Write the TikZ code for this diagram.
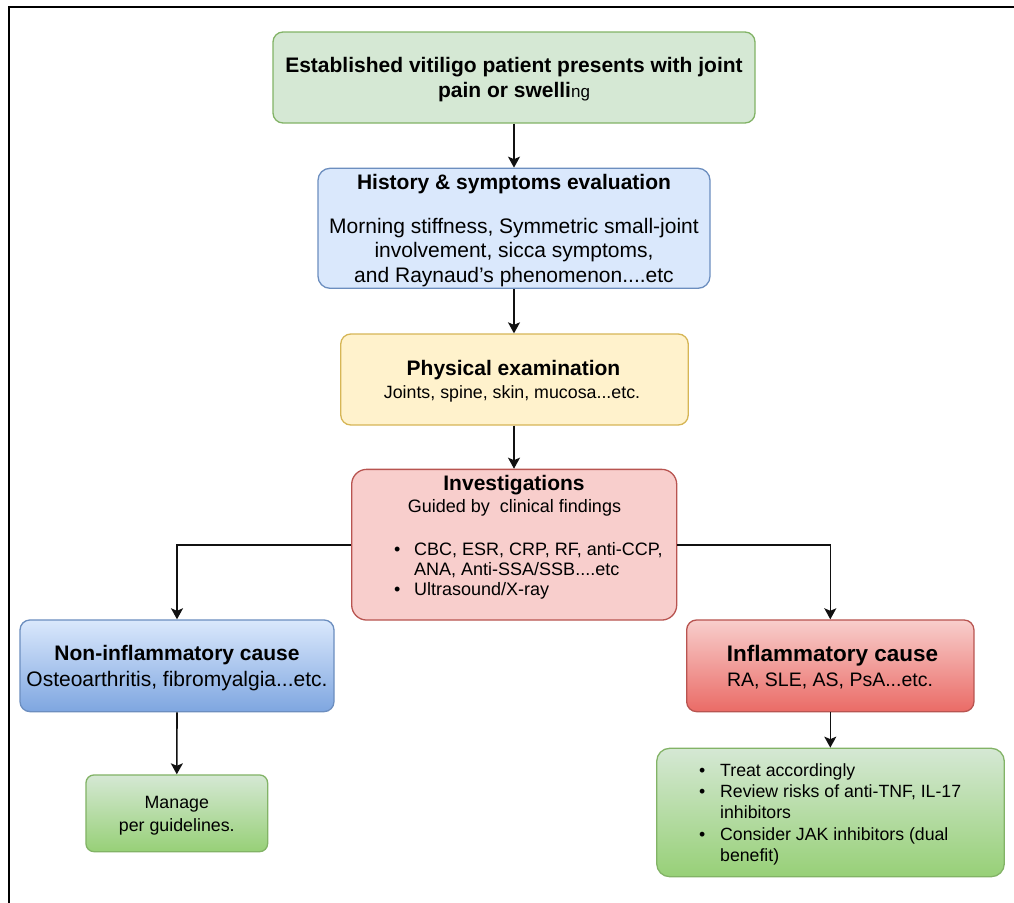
\documentclass[tikz,border=0pt]{standalone}
\usepackage{fontspec}
\setmainfont{Liberation Sans}
\usetikzlibrary{arrows.meta,shadings}
\newcommand{\fsz}[2]{\fontsize{#1}{#2}\selectfont}
\definecolor{gfill}{HTML}{D5E8D4}\definecolor{gline}{HTML}{82B366}\definecolor{gdark}{HTML}{97D077}
\definecolor{bfill}{HTML}{DAE8FC}\definecolor{bline}{HTML}{6C8EBF}\definecolor{bdark}{HTML}{7EA6E0}
\definecolor{yfill}{HTML}{FFF2CC}\definecolor{yline}{HTML}{D6B656}
\definecolor{rfill}{HTML}{F8CECC}\definecolor{rline}{HTML}{B85450}\definecolor{rdark}{HTML}{EA6B66}
\definecolor{arrowc}{HTML}{111111}
\begin{document}
\begin{tikzpicture}[x=1pt,y=-1pt,
  box/.style={draw, rounded corners=#1, inner sep=0pt, line width=1.3pt},
  box/.default=10pt,
  txt/.style={inner sep=0pt, anchor=base},
  ltxt/.style={inner sep=0pt, anchor=base west},
  conn/.style={draw=arrowc, line width=1.6pt, -{Stealth[length=11pt,width=12pt,inset=2.5pt]}}
]
\useasboundingbox (0,0) rectangle (1014,902);
\draw[line width=2.6pt] (9,905) -- (9,7) -- (1016,7);

% boxes
\node[box=10pt, fill=gfill, draw=gline, minimum width=482pt, minimum height=91pt] (top) at (514,77.5) {};
\node[box=12pt, fill=bfill, draw=bline, minimum width=392pt, minimum height=120pt] (hist) at (514,228.3) {};
\node[box=10pt, fill=yfill, draw=yline, minimum width=347.5pt, minimum height=91pt] (phys) at (514.5,379.5) {};
\node[box=15pt, fill=rfill, draw=rline, minimum width=325pt, minimum height=150.7pt] (inv) at (514.2,544.7) {};
\node[box=10pt, top color=bfill, bottom color=bdark, draw=bline, minimum width=314pt, minimum height=91.7pt] (non) at (177,665.8) {};
\node[box=10pt, top color=rfill, bottom color=rdark, draw=rline, minimum width=287.3pt, minimum height=91.7pt] (infl) at (830.3,665.8) {};
\node[box=8pt, top color=gfill, bottom color=gdark, draw=gline, minimum width=181.7pt, minimum height=76.7pt] (man) at (176.8,813.3) {};
\node[box=13pt, top color=gfill, bottom color=gdark, draw=gline, minimum width=347.6pt, minimum height=128.4pt] (treat) at (830.5,812.5) {};

% texts
\node[txt] (topT) at (514,72.3) {\fsz{21}{25.4}\bfseries\begin{tabular}[t]{@{}c@{}}Established vitiligo patient presents with joint\\ pain or swelli{\mdseries\fsz{17}{25.4}ng}\end{tabular}};

\node[txt] (histT) at (514,189) {\fsz{21}{25}\bfseries History \& symptoms evaluation};
\node[txt] (histB) at (514,233) {\fsz{21}{24.5}\begin{tabular}[t]{@{}c@{}}Morning stiffness, Symmetric small-joint\\ involvement, sicca symptoms,\\ and Raynaud’s phenomenon....etc\end{tabular}};

\node[txt] (physT) at (513.5,375) {\fsz{21}{25}\bfseries Physical examination};
\node[txt] (physB) at (512,398.3) {\fsz{17.8}{20}Joints, spine, skin, mucosa...etc.};

\node[txt] (invT) at (514,490) {\fsz{21}{25}\bfseries Investigations};
\node[txt] (invS) at (514.5,512.7) {\fsz{18}{20}Guided by\ \ clinical findings};
\node[ltxt] (invL) at (394,555) {\fsz{18}{20}\begin{tabular}[t]{@{}l@{}}\makebox[20pt][l]{\textbullet}CBC, ESR, CRP, RF, anti-CCP,\\ \makebox[20pt][l]{}ANA, Anti-SSA/SSB....etc\\ \makebox[20pt][l]{\textbullet}Ultrasound/X-ray\end{tabular}};

\node[txt] (nonT) at (177,660) {\fsz{21}{25}\bfseries Non-inflammatory cause};
\node[txt] (nonB) at (177,686) {\fsz{21}{25}Osteoarthritis, fibromyalgia...etc.};

\node[txt] (inflT) at (832.5,661.7) {\fsz{22.5}{25}\bfseries Inflammatory cause};
\node[txt] (inflB) at (830,686) {\fsz{19.5}{25}RA, SLE, AS, PsA...etc.};

\node[txt] (manT) at (176.8,808) {\fsz{17.8}{23.7}\begin{tabular}[t]{@{}c@{}}Manage\\ per guidelines.\end{tabular}};

\node[ltxt] (treatL) at (699,776) {\fsz{17.7}{21.4}\begin{tabular}[t]{@{}l@{}}\makebox[21pt][l]{\textbullet}Treat accordingly\\ \makebox[21pt][l]{\textbullet}Review risks of anti-TNF, IL-17\\ \makebox[21pt][l]{}inhibitors\\ \makebox[21pt][l]{\textbullet}Consider JAK inhibitors (dual\\ \makebox[21pt][l]{}benefit)\end{tabular}};

% connectors
\draw[conn] (top.south) -- (hist.north);
\draw[conn] (hist.south) -- (phys.north -| hist.south);
\draw[conn] (phys.south -| hist.south) -- (inv.north -| hist.south);
\draw[conn] (inv.west) -| (non.north);
\draw[conn] (inv.east) -| (infl.north);
\draw[conn] (non.south) -- (man.north);
\draw[conn] (infl.south) -- (treat.north -| infl.south);
\end{tikzpicture}
\end{document}
